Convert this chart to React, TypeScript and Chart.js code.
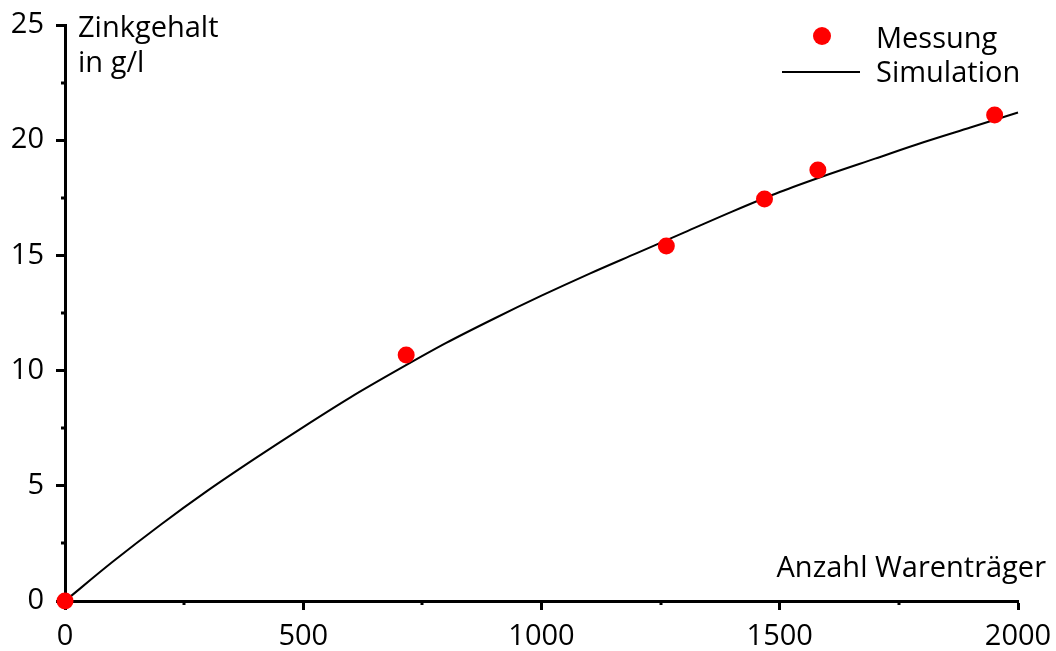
import React, { useEffect, useRef } from "react";
import { Chart, registerables } from "chart.js";

Chart.register(...registerables);

// ---- data ----
const xMin = 0;
const xMax = 2000;
const xStep = 500;
const xMinorStep = 250;
const yMin = 0;
const yMax = 25;
const yStep = 5;
const yMinorStep = 2.5;

const messungX = [0, 716, 1262, 1468, 1580, 1951];
const messungY = [0, 10.68, 15.41, 17.45, 18.71, 21.09];

const simX = [0, 100, 200, 300, 400, 500, 600, 700, 800, 900, 1000, 1100, 1200, 1300, 1400, 1500, 1600, 1700, 1800, 1900, 2000];
const simY = [0, 1.7, 3.3, 4.8, 6.2, 7.55, 8.85, 10.05, 11.2, 12.25, 13.25, 14.2, 15.1, 16.0, 16.9, 17.75, 18.5, 19.2, 19.9, 20.55, 21.2];

const seriesLabels = ["Messung", "Simulation"];
const yTitleLines = ["Zinkgehalt", "in g/l"];
const xTitle = "Anzahl Warenträger";

const FONT = '"Open Sans", "Noto Sans", sans-serif';
const FONT_SIZE = 29;
const INK = "#000000";
const RED = "#ff0000";

export default function App() {
  const ref = useRef<HTMLCanvasElement | null>(null);

  useEffect(() => {
    if (!ref.current) return;

    const decor = {
      id: "decor",
      afterDraw(chart: any) {
        const ctx = chart.ctx as CanvasRenderingContext2D;
        const xs = chart.scales.x;
        const ys = chart.scales.y;
        const area = chart.chartArea;
        ctx.save();
        // minor ticks
        ctx.strokeStyle = INK;
        ctx.lineWidth = 3;
        for (let v = xMin + xMinorStep; v < xMax; v += xStep) {
          const px = Math.round(xs.getPixelForValue(v));
          ctx.beginPath();
          ctx.moveTo(px, area.bottom);
          ctx.lineTo(px, area.bottom + 4);
          ctx.stroke();
        }
        for (let v = yMin + yMinorStep; v < yMax; v += yStep) {
          const py = Math.round(ys.getPixelForValue(v));
          ctx.beginPath();
          ctx.moveTo(area.left, py);
          ctx.lineTo(area.left - 4, py);
          ctx.stroke();
        }
        // axis titles
        ctx.fillStyle = INK;
        ctx.font = `${FONT_SIZE}px ${FONT}`;
        ctx.textBaseline = "alphabetic";
        ctx.textAlign = "left";
        ctx.fillText(yTitleLines[0], 78, 37);
        ctx.fillText(yTitleLines[1], 78, 72);
        ctx.textAlign = "right";
        ctx.fillText(xTitle, 1046, 577);
        // legend
        ctx.textAlign = "left";
        ctx.fillStyle = RED;
        ctx.beginPath();
        ctx.arc(822, 36, 9, 0, Math.PI * 2);
        ctx.fill();
        ctx.fillStyle = INK;
        ctx.fillText(seriesLabels[0], 876, 48);
        ctx.strokeStyle = INK;
        ctx.lineWidth = 2;
        ctx.beginPath();
        ctx.moveTo(782, 72);
        ctx.lineTo(860, 72);
        ctx.stroke();
        ctx.fillText(seriesLabels[1], 876, 82);
        ctx.restore();
      },
    };

    const axisCommon = {
      grid: {
        drawOnChartArea: false,
        drawTicks: true,
        tickLength: 9,
        tickWidth: 3,
        tickColor: INK,
      },
      border: { display: true, color: INK, width: 3 },
    };

    const plain = (v: any) => String(v);

    const chart = new Chart(ref.current, {
      type: "scatter",
      data: {
        datasets: [
          {
            label: seriesLabels[0],
            data: messungX.map((x, i) => ({ x, y: messungY[i] })),
            showLine: false,
            pointRadius: 8.5,
            pointBackgroundColor: RED,
            pointBorderWidth: 0,
            borderColor: RED,
            backgroundColor: RED,
            clip: false as any,
          },
          {
            label: seriesLabels[1],
            data: simX.map((x, i) => ({ x, y: simY[i] })),
            showLine: true,
            pointRadius: 0,
            borderColor: INK,
            borderWidth: 2,
            cubicInterpolationMode: "monotone",
            clip: false as any,
          },
        ],
      },
      options: {
        animation: false,
        responsive: false,
        devicePixelRatio: 1,
        layout: { padding: { top: 25, right: 38, left: 0, bottom: 0 } },
        plugins: {
          legend: { display: false },
          tooltip: { enabled: false },
        },
        scales: {
          x: {
            type: "linear",
            position: "bottom",
            min: xMin,
            max: xMax,
            ...axisCommon,
            ticks: {
              stepSize: xStep,
              color: INK,
              font: { family: FONT, size: FONT_SIZE },
              padding: 9,
              maxRotation: 0,
              callback: plain,
            },
            afterFit: (s: any) => {
              s.height = 50;
              s.paddingLeft = 0;
              s.paddingRight = 0;
            },
          },
          y: {
            type: "linear",
            min: yMin,
            max: yMax,
            ...axisCommon,
            ticks: {
              stepSize: yStep,
              color: INK,
              font: { family: FONT, size: FONT_SIZE },
              padding: 12,
              callback: plain,
            },
            afterFit: (s: any) => {
              s.width = 65;
              s.paddingTop = 0;
              s.paddingBottom = 0;
            },
          },
        },
      },
      plugins: [decor],
    } as any);

    return () => chart.destroy();
  }, []);

  return (
    <div style={{ position: "fixed", left: 0, top: 0, width: 1056, height: 651, background: "#fff" }}>
      <canvas ref={ref} width={1056} height={651} style={{ display: "block" }} />
    </div>
  );
}
